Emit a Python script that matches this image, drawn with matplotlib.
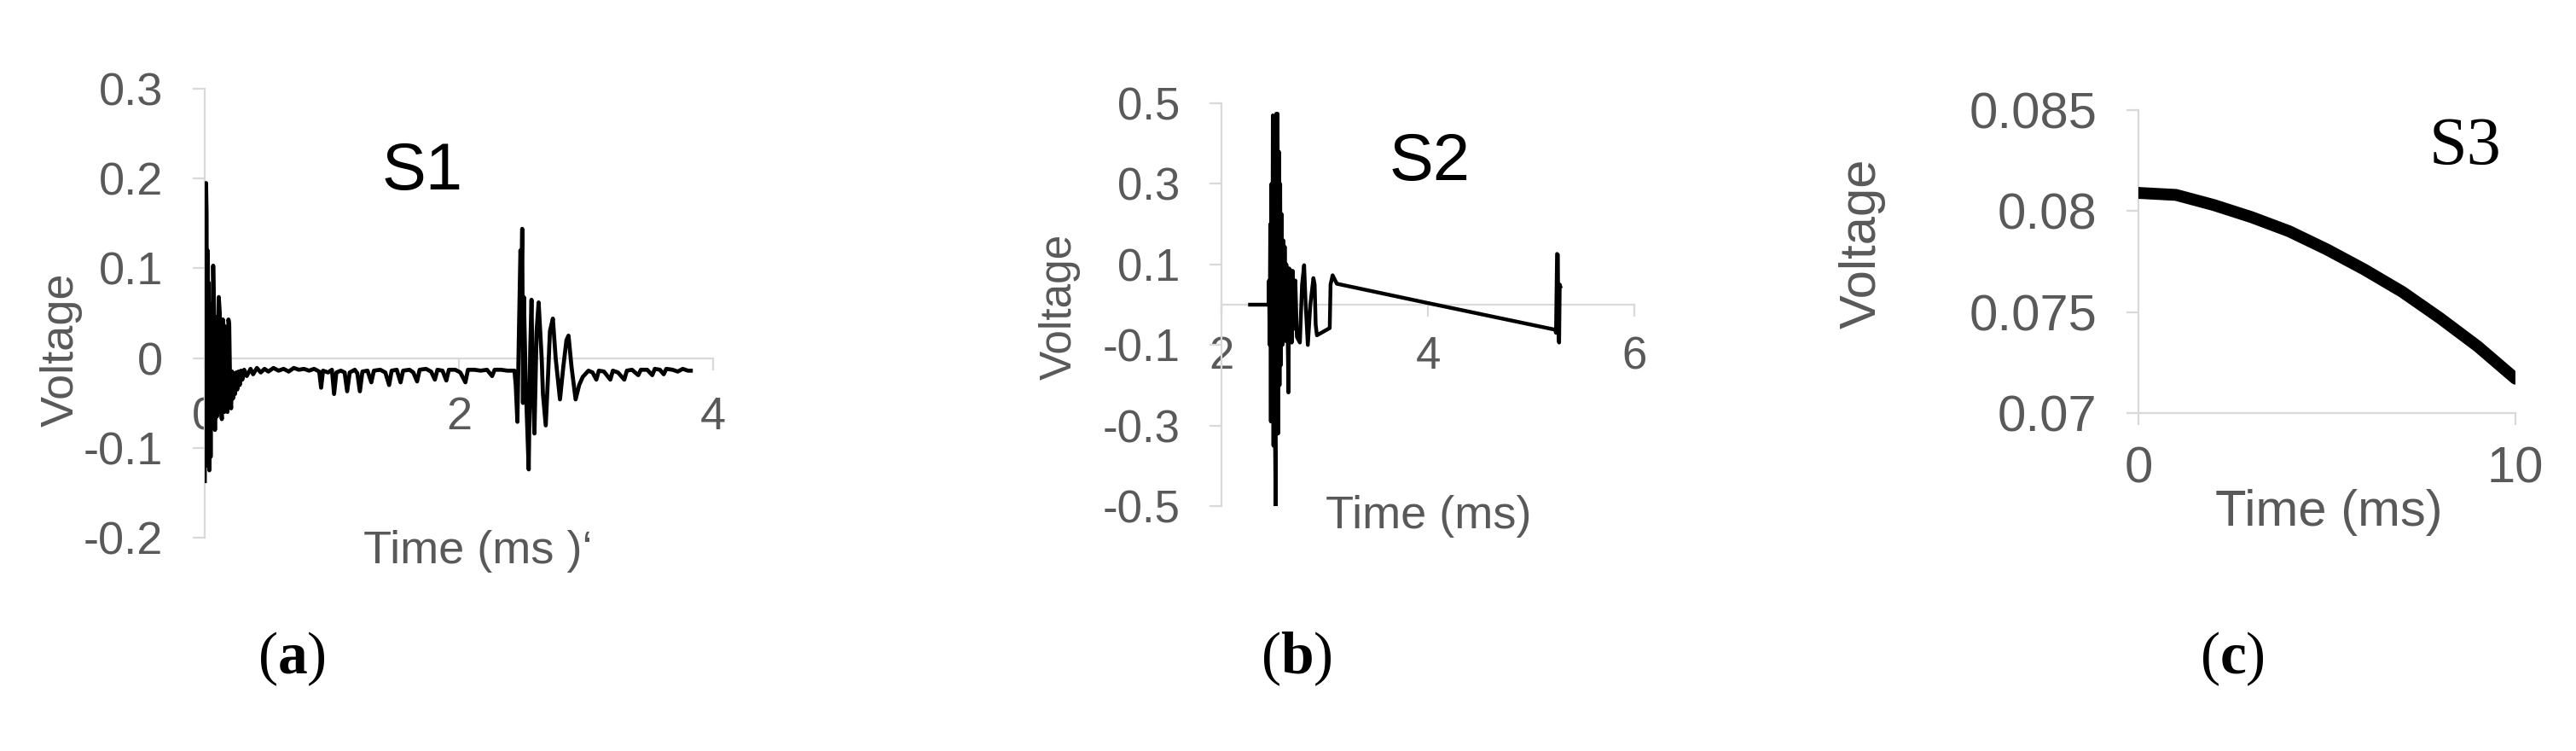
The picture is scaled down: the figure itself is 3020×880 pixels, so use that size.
import numpy as np
import matplotlib
matplotlib.use("Agg")
import matplotlib.pyplot as plt

plt.rcParams['font.family'] = ['Liberation Sans', 'DejaVu Sans']
plt.rcParams['axes.unicode_minus'] = False
plt.rcParams['mathtext.fontset'] = 'custom'
plt.rcParams['mathtext.rm'] = 'Liberation Serif'
plt.rcParams['mathtext.bf'] = 'Liberation Serif:bold'

# ---- S1 : two decaying bursts (time in ms, voltage) ----
s1_time = [0.000, 0.004, 0.010, 0.014, 0.018, 0.022, 0.026, 0.031, 0.036, 0.041,
           0.046, 0.052, 0.058, 0.066, 0.072, 0.080, 0.088, 0.096, 0.104, 0.110,
           0.118, 0.126, 0.134, 0.142, 0.148, 0.154, 0.162, 0.170, 0.178, 0.186,
           0.192, 0.200, 0.207, 0.215, 0.222, 0.230, 0.238, 0.247, 0.255, 0.265,
           0.275, 0.285, 0.295,
           0.31, 0.33, 0.36, 0.38, 0.41, 0.44, 0.47, 0.50, 0.54, 0.58, 0.62, 0.66,
           0.70, 0.74, 0.78, 0.82, 0.86, 0.90, 0.915, 0.93, 0.97, 1.00, 1.017, 1.035,
           1.07, 1.10, 1.12, 1.14, 1.18, 1.20, 1.22, 1.24, 1.28, 1.31, 1.33, 1.38,
           1.42, 1.45, 1.47, 1.51, 1.54, 1.56, 1.61, 1.64, 1.67, 1.69, 1.74, 1.78,
           1.81, 1.83, 1.87, 1.90, 1.92, 1.97, 2.01, 2.05, 2.07, 2.12, 2.17, 2.22,
           2.26, 2.28, 2.33, 2.38, 2.436,
           2.446, 2.459, 2.470, 2.483, 2.492, 2.497, 2.503, 2.510, 2.525, 2.548,
           2.560, 2.570, 2.580, 2.593, 2.610, 2.626, 2.650, 2.660, 2.682, 2.700,
           2.715, 2.738, 2.760, 2.794, 2.820, 2.845, 2.861, 2.885, 2.917, 2.945,
           2.973, 3.018,
           3.05, 3.08, 3.10, 3.14, 3.19, 3.21, 3.25, 3.30, 3.32, 3.36, 3.41, 3.43,
           3.48, 3.52, 3.54, 3.58, 3.61, 3.63, 3.68, 3.72, 3.76, 3.80, 3.823]
s1_volt = [-0.137, 0.190, 0.195, 0.160, -0.100, 0.120, -0.120, 0.084, -0.125, 0.030,
           -0.110, 0.060, -0.060, 0.103, 0.060, -0.080, 0.046, -0.065, 0.020, 0.068,
           0.050, -0.050, -0.068, 0.043, 0.035, -0.060, 0.035, -0.055, -0.060, 0.043,
           0.038, -0.040, -0.056, -0.015, -0.045, -0.018, -0.040, -0.016, -0.035, -0.015,
           -0.030, -0.014, -0.024,
           -0.013, -0.020, -0.012, -0.018, -0.011, -0.016, -0.012, -0.015, -0.011, -0.014,
           -0.012, -0.015, -0.011, -0.013, -0.012, -0.014, -0.012, -0.015, -0.033, -0.014,
           -0.016, -0.013, -0.040, -0.016, -0.014, -0.016, -0.037, -0.016, -0.013, -0.017,
           -0.037, -0.015, -0.014, -0.027, -0.014, -0.013, -0.016, -0.030, -0.014, -0.013,
           -0.027, -0.014, -0.013, -0.016, -0.026, -0.013, -0.012, -0.015, -0.024, -0.013,
           -0.014, -0.025, -0.013, -0.013, -0.016, -0.027, -0.013, -0.013, -0.014, -0.013,
           -0.020, -0.013, -0.013, -0.014, -0.014,
           -0.030, -0.071, 0.020, 0.120, 0.100, 0.144, -0.050, 0.068, -0.030, -0.124,
           0.010, 0.065, -0.030, -0.084, 0.030, 0.062, 0.000, -0.040, -0.075, -0.020,
           0.030, 0.044, 0.000, -0.046, -0.010, 0.020, 0.025, -0.010, -0.046, -0.030,
           -0.021, -0.014,
           -0.016, -0.024, -0.014, -0.015, -0.024, -0.014, -0.016, -0.024, -0.014, -0.013,
           -0.019, -0.013, -0.013, -0.019, -0.012, -0.013, -0.018, -0.012, -0.013, -0.015,
           -0.012, -0.014, -0.014]

# ---- S2 : burst, slow linear drift, second spike ----
s2_time = [2.276, 2.455, 2.460, 2.466, 2.472, 2.478, 2.484, 2.490, 2.497, 2.503,
           2.510, 2.517, 2.524, 2.530, 2.537, 2.543, 2.548, 2.555, 2.562, 2.568,
           2.575, 2.582, 2.590, 2.597, 2.605, 2.612, 2.620, 2.628, 2.640, 2.648,
           2.656, 2.664, 2.672, 2.680, 2.690, 2.700, 2.715, 2.730, 2.759, 2.780,
           2.800, 2.815, 2.836, 2.860, 2.890, 2.902, 2.912, 2.924, 3.048, 3.056,
           3.076, 3.117, 4.000, 5.230, 5.240, 5.250, 5.258, 5.262, 5.270, 5.276,
           5.282]
s2_volt = [0.000, 0.000, 0.060, -0.100, 0.200, -0.290, 0.300, -0.250, 0.470, -0.350,
           0.450, -0.300, -0.500, 0.474, -0.250, 0.474, -0.320, 0.380, -0.200, 0.300,
           -0.150, 0.225, -0.100, 0.160, -0.080, 0.144, -0.090, 0.100, -0.060, -0.218,
           0.090, -0.050, 0.084, -0.094, 0.084, -0.060, 0.060, -0.080, -0.094, 0.050,
           0.098, 0.000, -0.100, 0.000, 0.066, 0.050, -0.050, -0.076, -0.058, 0.050,
           0.073, 0.052, 0.004, -0.062, -0.070, 0.126, 0.124, -0.060, -0.094, 0.050,
           0.045]

# ---- S3 : slow decay ----
s3_time = [0, 1, 2, 3, 4, 5, 6, 7, 8, 9, 10]
s3_volt = [0.0809, 0.0808, 0.0803, 0.0797, 0.0790, 0.0781, 0.0771, 0.0760, 0.0747,
           0.0733, 0.0717]

GRID = '#d9d9d9'
TXT = '#595959'

fig = plt.figure(figsize=(30.2, 8.8), dpi=100)


def style_axes(ax, tick_fs, xpad, bottom_at=None):
    for side in ('top', 'right'):
        ax.spines[side].set_visible(False)
    for side in ('left', 'bottom'):
        ax.spines[side].set_color(GRID)
        ax.spines[side].set_linewidth(1.6)
    if bottom_at is not None:
        ax.spines['bottom'].set_position(('data', bottom_at))
    ax.tick_params(axis='both', direction='out', length=10, width=1.6,
                   color=GRID, labelcolor=TXT, labelsize=tick_fs)
    ax.tick_params(axis='y', pad=25)
    ax.tick_params(axis='x', pad=xpad)
    ax.set_facecolor('none')


def place_labels(ax, ylab_xy, xlab_xy):
    ax.yaxis.set_label_coords(*ylab_xy)
    ax.yaxis.label.set_va('center')
    ax.xaxis.set_label_coords(*xlab_xy)
    ax.xaxis.label.set_va('center')


# (a) S1
ax1 = fig.add_axes([0.0795, 0.2841, 0.1974, 0.5977])
ax1.plot(s1_time, s1_volt, color='black', lw=3.4, zorder=3)
ax1.set_xlim(0, 4)
ax1.set_ylim(-0.2, 0.3)
ax1.set_xticks([0, 2, 4])
ax1.set_xticklabels(['0', '2', '4'])
ax1.set_yticks([-0.2, -0.1, 0, 0.1, 0.2, 0.3])
ax1.set_yticklabels(['-0.2', '-0.1', '0', '0.1', '0.2', '0.3'])
style_axes(ax1, 39, 22, bottom_at=0)
ax1.set_ylabel('Voltage', fontsize=39, color=TXT)
ax1.set_xlabel('Time (ms )\u2018', fontsize=39, color=TXT)
place_labels(ax1, (-0.282, 0.418), (0.537, -0.03))
ax1.text(0.428, 0.814, 'S1', transform=ax1.transAxes, fontsize=56,
         ha='center', va='center', color='black')

# (b) S2
ax2 = fig.add_axes([0.4742, 0.3261, 0.1603, 0.5364])
ax2.plot(s2_time, s2_volt, color='black', lw=3.2, zorder=3)
ax2.set_xlim(2, 6)
ax2.set_ylim(-0.5, 0.5)
ax2.set_xticks([2, 4, 6])
ax2.set_xticklabels(['2', '4', '6'])
ax2.set_yticks([-0.5, -0.3, -0.1, 0.1, 0.3, 0.5])
ax2.set_yticklabels(['-0.5', '-0.3', '-0.1', '0.1', '0.3', '0.5'])
style_axes(ax2, 38, 16, bottom_at=0)
ax2.set_ylabel('Voltage', fontsize=37, color=TXT)
ax2.set_xlabel('Time (ms)', fontsize=39, color=TXT)
place_labels(ax2, (-0.393, 0.494), (0.502, -0.025))
ax2.text(0.504, 0.852, 'S2', transform=ax2.transAxes, fontsize=56,
         ha='center', va='center', color='black')

# (c) S3
ax3 = fig.add_axes([0.8301, 0.45, 0.1464, 0.4034])
ax3.plot(s3_time, s3_volt, color='black', lw=10, solid_capstyle='round', zorder=3)
ax3.set_xlim(0, 10)
ax3.set_ylim(0.07, 0.085)
ax3.set_xticks([0, 10])
ax3.set_xticklabels(['0', '10'])
ax3.set_yticks([0.07, 0.075, 0.08, 0.085])
ax3.set_yticklabels(['0.07', '0.075', '0.08', '0.085'])
style_axes(ax3, 43, 18)
ax3.set_ylabel('Voltage', fontsize=43, color=TXT)
ax3.set_xlabel('Time (ms)', fontsize=43, color=TXT)
place_labels(ax3, (-0.733, 0.56), (0.505, -0.327))
ax3.text(0.867, 0.876, 'S3', transform=ax3.transAxes, fontsize=58,
         family='Liberation Serif', ha='center', va='center', color='black')

# panel captions
for x, letter in [(0.1133, 'a'), (0.5033, 'b'), (0.8666, 'c')]:
    fig.text(x, 0.1227, r'($\mathbf{%s}$)' % letter, fontsize=50,
             family='Liberation Serif', ha='center', va='center', color='black')

fig.savefig('out.png', dpi=100, facecolor='white')
